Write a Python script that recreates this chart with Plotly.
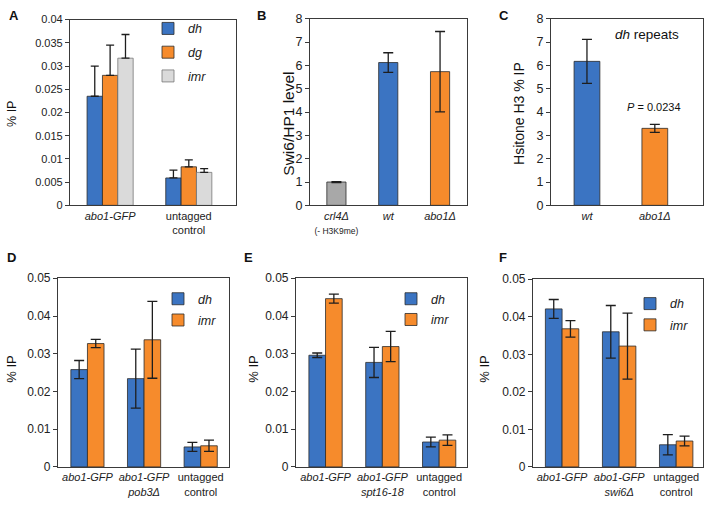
import plotly.graph_objects as go

W, H = 706, 506

# ---------------- data ----------------
a_cats = ["<i>abo1-GFP</i>", "untagged<br>control"]
a_dh = [0.0235, 0.0059]
a_dh_err = [0.0065, 0.0017]
a_dg = [0.0280, 0.0083]
a_dg_err = [0.0065, 0.0015]
a_imr = [0.0317, 0.0071]
a_imr_err = [0.0051, 0.0008]

b_cats = ["<i>crl4Δ</i><br><span style='font-size:8.5px'>(- H3K9me)</span>", "<i>wt</i>", "<i>abo1Δ</i>"]
b_vals = [1.0, 6.12, 5.73]
b_err = [0.02, 0.42, 1.72]

c_cats = ["<i>wt</i>", "<i>abo1Δ</i>"]
c_vals = [6.17, 3.30]
c_err = [0.94, 0.17]

d_cats = ["<i>abo1-GFP</i>", "<i>abo1-GFP<br>pob3Δ</i>", "untagged<br>control"]
d_dh = [0.0258, 0.0234, 0.0053]
d_dh_err = [0.0024, 0.0078, 0.0012]
d_imr = [0.0327, 0.0337, 0.0056]
d_imr_err = [0.0011, 0.0102, 0.0015]

e_cats = ["<i>abo1-GFP</i>", "<i>abo1-GFP<br>spt16-18</i>", "untagged<br>control"]
e_dh = [0.0296, 0.0277, 0.0066]
e_dh_err = [0.0006, 0.0040, 0.0013]
e_imr = [0.0446, 0.0319, 0.0071]
e_imr_err = [0.0012, 0.0040, 0.0014]

f_cats = ["<i>abo1-GFP</i>", "<i>abo1-GFP<br>swi6Δ</i>", "untagged<br>control"]
f_dh = [0.0421, 0.0360, 0.0059]
f_dh_err = [0.0025, 0.0070, 0.0027]
f_imr = [0.0368, 0.0322, 0.0069]
f_imr_err = [0.0022, 0.0088, 0.0013]

# ---------------- styles ----------------
FONT = "Arial, Liberation Sans, sans-serif"
BLUE = "#3b74c2"
ORANGE = "#f68b2c"
LGRAY = "#dadada"
GRAY = "#a8a8a8"
OUTLINE = dict(color="#2b2b2b", width=0.8)
ERRC = "#1e1e1e"

fig = go.Figure()

def px_x(x):
    return x / W

def px_y(y):
    return 1 - y / H

def err(arr, up_only=False, cap=4):
    if up_only:
        return dict(type="data", array=arr, arrayminus=[0] * len(arr), symmetric=False,
                    color=ERRC, thickness=1.3, width=cap)
    return dict(type="data", array=arr, color=ERRC, thickness=1.3, width=cap)

# Panel A
for name, vals, e, col in [("dh", a_dh, a_dh_err, BLUE), ("dg", a_dg, a_dg_err, ORANGE),
                           ("imr", a_imr, a_imr_err, LGRAY)]:
    fig.add_trace(go.Bar(x=a_cats, y=vals, name=name, xaxis="x", yaxis="y",
                         marker=dict(color=col, line=OUTLINE if col != LGRAY else dict(color="#777", width=0.8)),
                         error_y=err(e, up_only=True, cap=4), legend="legend",
                         legendgroup="a" + name, offsetgroup=name))
# Panel B
fig.add_trace(go.Bar(x=b_cats, y=b_vals, xaxis="x2", yaxis="y2", width=0.37, showlegend=False,
                     marker=dict(color=[GRAY, BLUE, ORANGE], line=OUTLINE),
                     error_y=err(b_err, cap=5)))
# Panel C
fig.add_trace(go.Bar(x=c_cats, y=c_vals, xaxis="x3", yaxis="y3", width=0.38, showlegend=False,
                     marker=dict(color=[BLUE, ORANGE], line=OUTLINE),
                     error_y=err(c_err, cap=5)))
# Panels D, E, F
for i, (cats, dh, dhe, imr, imre) in enumerate([(d_cats, d_dh, d_dh_err, d_imr, d_imr_err),
                                                 (e_cats, e_dh, e_dh_err, e_imr, e_imr_err),
                                                 (f_cats, f_dh, f_dh_err, f_imr, f_imr_err)]):
    ax = str(i + 4)
    lg = "legend" + str(i + 2)
    fig.add_trace(go.Bar(x=cats, y=dh, name="dh", xaxis="x" + ax, yaxis="y" + ax,
                         marker=dict(color=BLUE, line=OUTLINE), error_y=err(dhe, cap=5),
                         legend=lg, legendgroup=ax + "dh", offsetgroup="dh"))
    fig.add_trace(go.Bar(x=cats, y=imr, name="imr", xaxis="x" + ax, yaxis="y" + ax,
                         marker=dict(color=ORANGE, line=OUTLINE), error_y=err(imre, cap=5),
                         legend=lg, legendgroup=ax + "imr", offsetgroup="imr"))

# ---------------- axes ----------------
panels = {
    "": dict(x=(70, 236), y=(13, 204), xr=[-0.51, 1.6], yr=[0, 0.04], dt=0.005, tfs=11),
    "2": dict(x=(310, 467), y=(12, 204), xr=[-0.51, 2.52], yr=[0, 8], dt=1, tfs=12.5),
    "3": dict(x=(551, 703), y=(12, 204), xr=[-0.53, 1.71], yr=[0, 8], dt=1, tfs=12.5),
    "4": dict(x=(58, 229), y=(279, 473), xr=[-0.52, 2.5], yr=[0, 0.05], dt=0.01, tfs=12),
    "5": dict(x=(296, 467), y=(279, 473), xr=[-0.52, 2.49], yr=[0, 0.05], dt=0.01, tfs=12),
    "6": dict(x=(533, 703), y=(280, 473), xr=[-0.51, 2.47], yr=[0, 0.05], dt=0.01, tfs=12),
}
lay = {}
for k, p in panels.items():
    lay["xaxis" + k] = dict(domain=[px_x(p["x"][0]), px_x(p["x"][1])], anchor="y" + k,
                            range=p["xr"], type="category", showline=True, mirror=True,
                            linecolor="#3a3a3a", linewidth=1.2, ticks="", showgrid=False,
                            tickfont=dict(family=FONT, size=11, color="#222"), fixedrange=True)
    lay["yaxis" + k] = dict(domain=[px_y(p["y"][1]), px_y(p["y"][0])], anchor="x" + k,
                            range=p["yr"], dtick=p["dt"], showline=True, mirror=True,
                            linecolor="#3a3a3a", linewidth=1.2, ticks="outside", ticklen=4,
                            tickcolor="#3a3a3a", showgrid=False, zeroline=False,
                            tickfont=dict(family=FONT, size=p["tfs"], color="#222"))

def leg(xpx, ypx, gap, fs=12.5):
    return dict(x=px_x(xpx), y=px_y(ypx), xanchor="left", yanchor="top", bgcolor="rgba(0,0,0,0)",
                font=dict(family=FONT, size=fs, color="#222", style="italic"),
                itemwidth=30, tracegroupgap=gap)

lay["legend"] = leg(148, 7, 4.5)
lay["legend2"] = leg(158, 285, 2)
lay["legend3"] = leg(391, 285, 1.5)
lay["legend4"] = leg(630, 290, 2)

ann = []
def text(x, y, s, size, angle=0, bold=False, xanchor="center"):
    ann.append(dict(x=px_x(x), y=px_y(y), xref="paper", yref="paper", text=s, showarrow=False,
                    textangle=angle, xanchor=xanchor, yanchor="middle",
                    font=dict(family=FONT, size=size, color="#111",
                              weight="bold" if bold else "normal")))

text(7, 9, "A", 13, bold=True, xanchor="left")
text(255, 9, "B", 13, bold=True, xanchor="left")
text(497, 9, "C", 13, bold=True, xanchor="left")
text(5, 258, "D", 13, bold=True, xanchor="left")
text(242, 258, "E", 13, bold=True, xanchor="left")
text(497, 258, "F", 13, bold=True, xanchor="left")

text(12, 110, "% IP", 12.5, angle=-90)
text(289, 120, "Swi6/HP1 level", 15.5, angle=-90)
text(519, 110, "Hsitone H3 % IP", 14, angle=-90)
text(12, 373, "% IP", 13, angle=-90)
text(254, 373, "% IP", 13, angle=-90)
text(485, 373, "% IP", 13, angle=-90)

text(681, 28, "<i>dh</i> repeats", 13.5, xanchor="right")
text(683, 103, "<i>P</i> = 0.0234", 11, xanchor="right")

fig.update_layout(width=W, height=H, margin=dict(l=0, r=0, t=0, b=0),
                  paper_bgcolor="white", plot_bgcolor="white", barmode="group",
                  bargap=0.414, bargroupgap=0, annotations=ann, **lay)

fig.write_html("out.html", config={"displayModeBar": False},
               post_script="document.body.style.margin='0';document.body.style.padding='0';")
